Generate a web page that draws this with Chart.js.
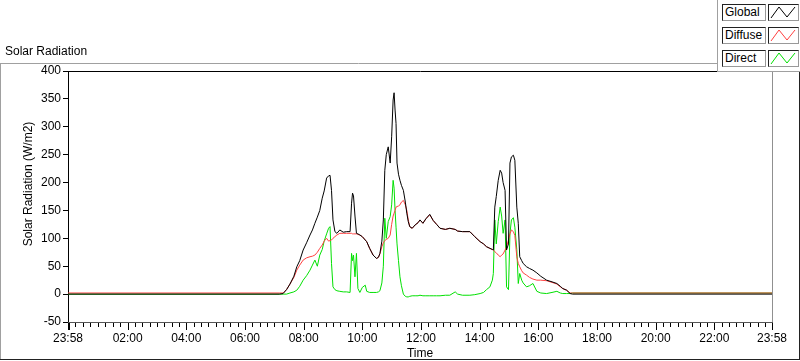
<!DOCTYPE html>
<html lang="en">
<head>
<meta charset="UTF-8">
<title>Solar Radiation</title>
<script src="https://cdn.jsdelivr.net/npm/chart.js"></script>
<style>
  html, body { margin: 0; padding: 0; background: #fff; }
  #wrap { position: relative; width: 800px; height: 361px; overflow: hidden; font-family: "Liberation Sans", Arial, sans-serif; color: #000; }
  #chart { position: absolute; left: 0; top: 0; }
  #title { position: absolute; left: 5px; top: 44px; font-size: 12px; }
  #legend { position: absolute; left: 717px; top: 0; width: 83px; height: 71px; background: #fff;
            border-left: 1px solid #a0a0a0; border-bottom: 1px solid #a0a0a0; }
  .name { position: absolute; left: 4px; width: 40px; height: 15px; border: 1px solid; border-color: #222 #999 #999 #222;
          font-size: 12px; line-height: 15px; padding-left: 2px; background: #fff; }
  .sample { position: absolute; left: 50px; width: 29px; height: 15px; border: 1px solid; border-color: #222 #999 #999 #222; background: #fff; }
  .sample svg { position: absolute; left: 0; top: 0; }
</style>
</head>
<body>
<div id="wrap">
  <canvas id="chart" width="800" height="361"></canvas>
  <div id="title">Solar Radiation</div>
  <div id="legend">
    <div class="name" style="top:4px">Global</div>
    <div class="sample" style="top:4px"><svg width="29" height="15"><polyline points="2,13 10,2 18,12 26,2" fill="none" stroke="#000" stroke-width="1"/></svg></div>
    <div class="name" style="top:27px">Diffuse</div>
    <div class="sample" style="top:27px"><svg width="29" height="15"><polyline points="2,13 10,2 18,12 26,2" fill="none" stroke="#ff4040" stroke-width="1"/></svg></div>
    <div class="name" style="top:50px">Direct</div>
    <div class="sample" style="top:50px"><svg width="29" height="15"><polyline points="2,13 10,2 18,12 26,2" fill="none" stroke="#00e000" stroke-width="1"/></svg></div>
  </div>
</div>

<script>
  // time of day for each reading (the day runs 23:58 -> 23:58)
  const times = [
    "07:10","07:18","07:25","07:32","07:40","07:46","07:52","07:59","08:06","08:13",
    "08:18","08:23","08:28","08:33","08:38","08:42","08:47","08:51","08:54","08:57",
    "09:00","09:04","09:08","09:14","09:21","09:28","09:35","09:38","09:40","09:42",
    "09:45","09:48","09:51","09:55","10:00","10:06","10:09","10:15","10:22","10:29",
    "10:33","10:36","10:40","10:43","10:46","10:49","10:53","10:57","11:00","11:03",
    "11:05","11:07","11:09","11:11","11:14","11:17","11:20","11:24","11:28","11:31",
    "11:34","11:37","11:42","11:48","11:54","11:58","12:04","12:10","12:18","12:25",
    "12:32","12:39","12:50","12:59","13:10","13:15","13:25","13:40","13:50","14:01",
    "14:08","14:14","14:21","14:26","14:28","14:31","14:34","14:38","14:42","14:45",
    "14:48","14:52","14:55","14:59","15:02","15:05","15:09","15:12","15:16","15:19",
    "15:22","15:26","15:29","15:36","15:42","15:49","15:57","16:05","16:17","16:28",
    "16:38","16:45","16:50","16:58","17:05","17:10"
  ];
  const globalVals = [
    0, 1, 8, 18, 32, 49, 60, 79, 92, 106,
    115, 127, 138, 150, 172, 185, 208, 212, 213, 186,
    133, 112, 109, 115, 111, 112, 112, 163, 181, 176,
    140, 109, 108, 106, 103, 97, 94, 82, 70, 64,
    66, 73, 95, 133, 222, 250, 264, 235, 282, 348,
    361, 330, 306, 235, 215, 204, 195, 186, 165, 145,
    130, 121, 118, 124, 128, 133, 127, 135, 143, 132,
    125, 118, 116, 118, 116, 113, 112, 112, 103, 94,
    90, 85, 82, 80, 79, 156, 175, 204, 222, 217,
    200, 186, 79, 90, 235, 246, 249, 240, 156, 127,
    67, 60, 55, 49, 46, 43, 38, 32, 25, 22,
    19, 14, 10, 7, 1, 0
  ];
  const diffuseVals = [
    2, 2, 8, 18, 30, 43, 52, 61, 65, 67,
    68, 70, 75, 82, 88, 95, 100, 95, 96, 97,
    100, 103, 106, 109, 109, 109, 109, 109, 108, 108,
    108, 108, 107, 106, 103, 97, 94, 82, 70, 64,
    66, 72, 85, 92, 96, 98, 100, 106, 125, 140,
    145, 150, 156, 157, 158, 160, 165, 168, 160, 150,
    133, 121, 118, 124, 128, 133, 127, 135, 142, 132,
    125, 118, 116, 118, 116, 113, 112, 112, 103, 94,
    90, 85, 82, 80, 79, 76, 74, 70, 67, 70,
    72, 79, 85, 97, 108, 115, 112, 105, 67, 55,
    49, 42, 38, 34, 30, 27, 25, 25, 24, 21,
    18, 13, 10, 7, 2, 2
  ];
  const directVals = [
    0, 0, 0, 2, 4, 7, 14, 25, 33, 43,
    52, 61, 50, 70, 80, 95, 108, 118, 121, 55,
    13, 8, 6, 5, 4, 4, 3, 73, 60, 70,
    31, 73, 10, 3, 12, 16, 5, 3, 3, 3,
    4, 6, 20, 50, 136, 100, 130, 139, 160, 204,
    190, 150, 120, 90, 60, 31, 15, 0, -4, -5,
    -5, -4, -3, -3, -3, -2, -3, -3, -3, -3,
    -3, -3, -2, -2, 4, 0, -2, -2, -1, 1,
    3, 8, 13, 25, 37, 133, 90, 130, 156, 140,
    109, 133, 13, 8, 109, 133, 137, 120, 80, 19,
    37, 25, 20, 13, 15, 19, 5, 2, 1, 3,
    5, 2, 1, 1, 1, 2
  ];
  // night-time readings at the two ends of the day
  const nightVals = { global: 0, diffuse: 2, direct: [0, 2] };

  const xTickLabels = ["23:58","02:00","04:00","06:00","08:00","10:00","12:00","14:00","16:00","18:00","20:00","22:00","23:58"];
  const yTicks = [-50, 0, 50, 100, 150, 200, 250, 300, 350, 400];

  const DAY_START = -2, DAY_END = 1438;   // minutes from midnight

  function toMin(s) {
    const [h, m] = s.split(':').map(Number);
    return h * 60 + m;
  }
  function fmt(v) {
    const m = ((Math.round(v) % 1440) + 1440) % 1440;
    return String(Math.floor(m / 60)).padStart(2, '0') + ':' + String(m % 60).padStart(2, '0');
  }
  const xTickVals = xTickLabels.map((s, i) => i === 0 ? DAY_START : i === xTickLabels.length - 1 ? DAY_END : toMin(s));

  function series(vals, startV, endV) {
    const pts = [{ x: DAY_START, y: startV }];
    times.forEach((t, i) => pts.push({ x: toMin(t), y: vals[i] }));
    pts.push({ x: DAY_END, y: endV });
    return pts;
  }

  const FONT = { family: '"Liberation Sans", Arial, sans-serif', size: 12 };

  // frame lines, minor ticks and axis captions in LabVIEW style
  const framePlugin = {
    id: 'frame',
    afterDraw(chart) {
      const { ctx, chartArea: a } = chart;
      const xs = chart.scales.x;
      ctx.save();
      ctx.lineWidth = 1;
      const line = (x1, y1, x2, y2, c) => {
        ctx.strokeStyle = c; ctx.beginPath(); ctx.moveTo(x1, y1); ctx.lineTo(x2, y2); ctx.stroke();
      };
      // outer panel
      line(0, 63.5, 717, 63.5, '#a0a0a0');
      line(0.5, 63, 0.5, 360, '#a0a0a0');
      line(0, 359.5, 800, 359.5, '#222');
      line(799.5, 72, 799.5, 360, '#222');
      // plot box
      line(a.left, a.top + 0.5, a.right + 1, a.top + 0.5, '#000');
      line(a.right + 0.5, a.top, a.right + 0.5, a.bottom + 1, '#909090');
      line(a.left, a.bottom + 0.5, a.right + 1, a.bottom + 0.5, '#555');
      // x tick marks: majors at labels, 7 minors between each pair
      for (let i = 0; i < xTickVals.length; i++) {
        const px = Math.round(xs.getPixelForValue(xTickVals[i])) + 0.5;
        line(px, a.bottom + 1, px, a.bottom + 8, '#000');
        if (i === 0) line(px + 1, a.bottom + 1, px + 1, a.bottom + 8, '#000');
        if (i < xTickVals.length - 1) {
          const step = (xTickVals[i + 1] - xTickVals[i]) / 8;
          for (let k = 1; k < 8; k++) {
            const mx = Math.round(xs.getPixelForValue(xTickVals[i] + k * step)) + 0.5;
            line(mx, a.bottom + 1, mx, a.bottom + 5, '#000');
          }
        }
      }
      // captions
      ctx.fillStyle = '#000';
      ctx.font = '12px "Liberation Sans", Arial, sans-serif';
      ctx.textAlign = 'center';
      ctx.textBaseline = 'middle';
      ctx.fillText('Time', (a.left + a.right) / 2, 354);
      ctx.translate(29, 184);
      ctx.rotate(-Math.PI / 2);
      ctx.fillText('Solar Radiation (W/m2)', 0, 0);
      ctx.restore();
    }
  };

  new Chart(document.getElementById('chart'), {
    type: 'line',
    data: {
      datasets: [
        { label: 'Global', data: series(globalVals, nightVals.global, nightVals.global), borderColor: '#000' },
        { label: 'Diffuse', data: series(diffuseVals, nightVals.diffuse, nightVals.diffuse), borderColor: '#ff4040' },
        { label: 'Direct', data: series(directVals, nightVals.direct[0], nightVals.direct[1]), borderColor: '#00e000' }
      ]
    },
    options: {
      responsive: false,
      animation: false,
      layout: { padding: { top: 71, right: 28, left: 0, bottom: 0 } },
      plugins: { legend: { display: false }, tooltip: { enabled: false } },
      elements: { point: { radius: 0 }, line: { borderWidth: 1, tension: 0 } },
      scales: {
        x: {
          type: 'linear', min: DAY_START, max: DAY_END,
          afterFit: s => { s.height = 39; },
          afterBuildTicks: s => { s.ticks = xTickVals.map(v => ({ value: v })); },
          grid: { display: false },
          border: { display: false },
          ticks: { autoSkip: false, maxRotation: 0, padding: 1, color: '#000', font: FONT, callback: v => fmt(v) }
        },
        y: {
          min: -50, max: 400,
          afterFit: s => { s.width = 68; },
          afterBuildTicks: s => { s.ticks = yTicks.map(v => ({ value: v })); },
          grid: { drawOnChartArea: false, tickLength: 5, tickColor: '#000' },
          border: { color: '#000' },
          ticks: { padding: 2, color: '#000', font: FONT }
        }
      }
    },
    plugins: [framePlugin]
  });
</script>
</body>
</html>
